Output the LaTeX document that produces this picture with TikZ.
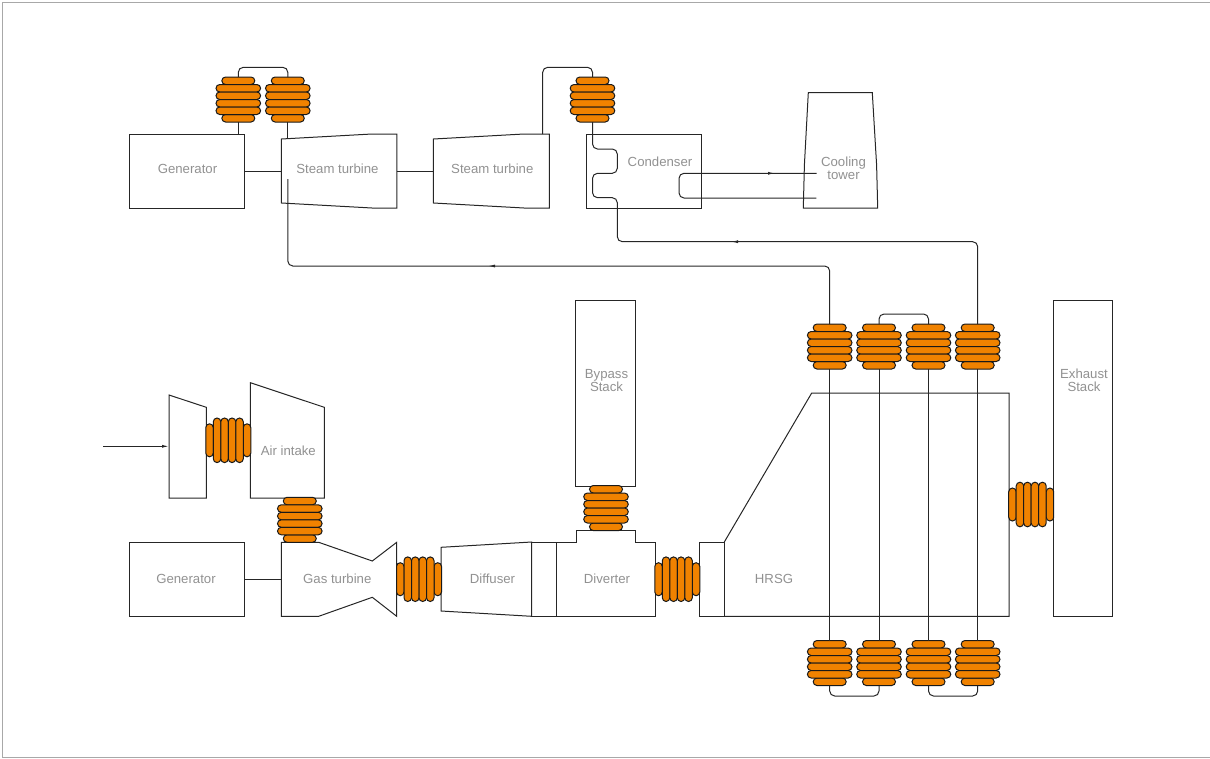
\documentclass[tikz,border=0pt]{standalone}
\usepackage{fontspec}
\setmainfont{Liberation Sans}
\usepackage{xcolor}
\usetikzlibrary{arrows.meta, calc}
\definecolor{bellowsorange}{HTML}{F08200}
\definecolor{labelgray}{HTML}{919191}
\definecolor{framegray}{HTML}{A8A8A8}

\begin{document}
\begin{tikzpicture}[x=1pt, y=-1pt,
	    every node/.style={font=\fontsize{13.2}{13}\selectfont, text=labelgray, align=center, inner sep=0pt, outer sep=0pt},
	    unit/.style={draw=black!85, line width=1pt, line join=miter},
	    pipe/.style={draw=black!85, line width=1pt, rounded corners=5pt},
	    flowtip/.style={-{Latex[length=7pt,width=3pt]}, black!85, line width=1pt},
	    pill/.style={draw=black!90, fill=bellowsorange, line width=1pt, rounded corners=3.75pt},
	    bellows/.pic={
	      \draw[pill] (-16.5,-22.5) rectangle (16.5,-15);
	      \draw[pill] (-16.5,15) rectangle (16.5,22.5);
	      \foreach \yy in {-15,-7.5,0,7.5}
	        \draw[pill] (-22.3,\yy) rectangle (22.3,\yy+7.5);
	      \coordinate (-top) at (0,-22.5);
	      \coordinate (-bot) at (0,22.5);
	    }
	  ]
	  \useasboundingbox (0,0) rectangle (1210,758);
	  \draw[framegray, line width=0.8pt] (1210,2.5) -- (2.5,2.5) -- (2.5,757) -- (1210,757);

	  % plain boxes
	  \node[unit, minimum width=115.5pt, minimum height=74pt] (genTop) at (186.8,171) {};
	  \node[unit, minimum width=115.5pt, minimum height=74pt] (condenser) at (643.8,171) {};
	  \node[unit, minimum width=115.5pt, minimum height=74pt] (genLow) at (186.8,579.3) {};
	  \node[unit, minimum width=59.7pt, minimum height=186pt] (bypass) at (605.8,393) {};
	  \node[unit, minimum width=59.7pt, minimum height=316pt] (exhaust) at (1083,458) {};
	  \node[unit, minimum width=25pt, minimum height=74.3pt] (hrsgIn) at (711.8,579.2) {};
	  \node[unit, minimum width=25pt, minimum height=74.3pt] (diffEnd) at (544.2,579.2) {};

	  % turbines and the other tapered bodies
	  \draw[unit] (281.4,139) -- (372,134) -- (396.8,134) -- (396.8,208) -- (372,208) -- (281.4,203) -- cycle;
	  \draw[unit] (433.4,139) -- (524,134) -- (549.3,134) -- (549.3,208) -- (524,208) -- (433.4,203) -- cycle;
	  \draw[unit] (808.3,92.7) -- (872.3,92.7) -- (876.6,165) -- (877.7,208) -- (803.3,208) -- (804.4,165) -- cycle;
	  \draw[unit] (169,395) -- (206.3,407.3) -- (206.3,498) -- (169,498) -- cycle;
	  \draw[unit] (250.3,382.7) -- (324.3,407.3) -- (324.3,498) -- (250.3,498) -- cycle;
	  \draw[unit] (281.3,542.3) -- (318.7,542.3) -- (372.3,561) -- (396.7,542.3) -- (396.7,616.3)
	    -- (372.3,597.3) -- (318.7,616.3) -- (281.3,616.3) -- cycle;
	  \draw[unit] (441,547.3) -- (531.7,542) -- (531.7,616.3) -- (441,611) -- cycle;
	  \draw[unit] (556.7,542) -- (576,542) -- (576,530) -- (635.7,530) -- (635.7,542) -- (655.3,542)
	    -- (655.3,616.3) -- (556.7,616.3) -- cycle;
	  \draw[unit] (724.3,542) -- (811.7,393) -- (1009,393) -- (1009,616.3) -- (724.3,616.3);

	  % labels
	  \node (genTopText) at (187.5,169) {Generator};
	  \node (steamAText) at (337.5,169) {Steam turbine};
	  \node (steamBText) at (492.3,169) {Steam turbine};
	  \node (condText) at (660,162) {Condenser};
	  \node (towerText) at (843.5,168) {Cooling\\tower};
	  \node (airText) at (288.3,451) {Air intake};
	  \node (genLowText) at (186,579) {Generator};
	  \node (gasText) at (337.3,579) {Gas turbine};
	  \node (diffText) at (492.5,579) {Diffuser};
	  \node (divText) at (607,579) {Diverter};
	  \node (hrsgText) at (774,579) {HRSG};
	  \node (bypassText) at (606.5,380.5) {Bypass\\Stack};
	  \node (exhaustText) at (1084,380.5) {Exhaust\\Stack};

	  % bellows
	  \pic (bA) at (238.3,99.5) {bellows};
	  \pic (bB) at (287.8,99.5) {bellows};
	  \pic (bC) at (592.5,99.5) {bellows};
	  \pic (bAir) at (228.3,440.3) [rotate=90] {bellows};
	  \pic (bGas) at (299.8,519.8) {bellows};
	  \pic (bOut) at (419,579.2) [rotate=90] {bellows};
	  \pic (bStack) at (606,508) {bellows};
	  \pic (bDiv) at (677.3,579.2) [rotate=90] {bellows};
	  \pic (bExh) at (1031.2,504.5) [rotate=90] {bellows};
	  \pic (hA) at (829.7,346.5) {bellows};
	  \pic (hB) at (879,346.5) {bellows};
	  \pic (hC) at (928.5,346.5) {bellows};
	  \pic (hD) at (977.7,346.5) {bellows};
	  \pic (lA) at (829.7,663) {bellows};
	  \pic (lB) at (879,663) {bellows};
	  \pic (lC) at (928.5,663) {bellows};
	  \pic (lD) at (977.7,663) {bellows};

	  % shaft and steam lines, top row
	  \draw[unit] (genTop.east |- 0,171.3) -- (281.4,171.3);
	  \draw[unit] (396.8,171.3) -- (433.4,171.3);
	  \draw[unit] (bA-bot) -- (bA-bot |- genTop.north);
	  \coordinate (steamAIn) at (287.8,138.7);
	  \draw[unit] (bB-bot) -- (steamAIn);
	  \draw[pipe] (bA-top) -- ++(0,-9.7) -| (bB-top);
	  \coordinate (steamBOut) at (542.7,134);
	  \draw[pipe] (steamBOut) |- (592.5,67.3) -- (bC-top);

	  % condenser coil and its return to the boiler
	  \coordinate (tipCond) at (731,241.7);
	  \draw[pipe] (bC-bot) -- (592.5,149) -- (617.3,149) -- (617.3,173.3) -- (592.5,173.3)
	    -- (592.5,197.7) -- (617.3,197.7) -- (617.3,241.7) -- (977.7,241.7) -- (hD-top);
	  \draw[flowtip] ($(tipCond)+(6,0)$) -- (tipCond);

	  % hot steam back to the turbine
	  \coordinate (steamAEnd) at (287.8,179);
	  \coordinate (tipSteam) at (488,266);
	  \draw[pipe] (hA-top) |- (steamAEnd |- tipSteam) -- (steamAEnd);
	  \draw[flowtip] ($(tipSteam)+(6,0)$) -- (tipSteam);

	  % cooling loop
	  \coordinate (towerOut) at (816.7,173.3);
	  \coordinate (towerIn) at (816.3,198);
	  \coordinate (tipCool) at (775,173.3);
	  \draw[pipe] (towerOut) -- (679,173.3) -- (679,198) -- (towerIn);
	  \draw[flowtip] ($(tipCool)+(-6,0)$) -- (tipCool);

	  % inlet
	  \coordinate (inletStart) at (103.3,446.3);
	  \coordinate (inletEnd) at (169,446.3);
	  \draw[flowtip] (inletStart) -- (inletEnd);

	  % generator to gas turbine
	  \draw[unit] (genLow.east) -- (281.3,579.3);

	  % boiler tubes and their links
	  \draw[unit] (hA-bot) -- (lA-top);
	  \draw[unit] (hB-bot) -- (lB-top);
	  \draw[unit] (hC-bot) -- (lC-top);
	  \draw[unit] (hD-bot) -- (lD-top);
	  \draw[pipe] (hB-top) -- ++(0,-10) -| (hC-top);
	  \draw[pipe] (lA-bot) -- ++(0,10.5) -| (lB-bot);
	  \draw[pipe] (lC-bot) -- ++(0,10.5) -| (lD-bot);
	\end{tikzpicture}
\end{document}
